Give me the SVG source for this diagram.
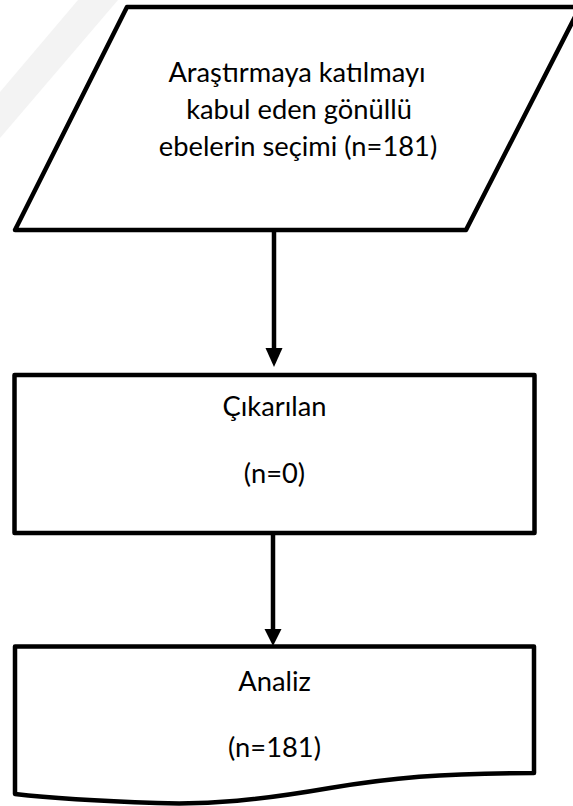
<svg xmlns="http://www.w3.org/2000/svg" width="573" height="806" viewBox="0 0 573 806">
<style>
.shape{fill:#fff;stroke:#000;stroke-width:4.5;stroke-linejoin:round}
.lbl{font-family:Lato,"Open Sans","Liberation Sans",sans-serif;font-size:27.3px;fill:#000;text-anchor:middle}
.conn{stroke:#000;stroke-width:4.5;fill:none}
.head{fill:#000}
</style>
<rect width="573" height="806" fill="#fff"/>
<polygon points="78,0 118,0 0,138 0,92" fill="#f3f3f3"/>
<g id="node-secim">
<polygon class="shape" points="127,7 580,7 466,230 15,230"/>
<text class="lbl" x="297" y="82">Araştırmaya katılmayı</text>
<text class="lbl" x="299" y="119">kabul eden gönüllü</text>
<text class="lbl" x="298" y="156">ebelerin seçimi (n=181)</text>
</g>
<g id="node-cikarilan">
<rect class="shape" x="14.5" y="375" width="520" height="158"/>
<text class="lbl" x="274.5" y="416">Çıkarılan</text>
<text class="lbl" x="274.5" y="483">(n=0)</text>
</g>
<g id="node-analiz">
<path class="shape" d="M15,646.5 H534 V773 C440,773 390,778 330,788 C260,800 210,805 157,803 C100,801 50,798 15,794 Z"/>
<text class="lbl" x="274.5" y="691">Analiz</text>
<text class="lbl" x="274.5" y="757">(n=181)</text>
</g>
<g id="connectors">
<line class="conn" x1="274" y1="232" x2="274" y2="350"/>
<polygon class="head" points="265.5,348 282.5,348 274,367"/>
<line class="conn" x1="273" y1="535" x2="273" y2="631"/>
<polygon class="head" points="264.5,629 281.5,629 273,646"/>
</g>
</svg>
